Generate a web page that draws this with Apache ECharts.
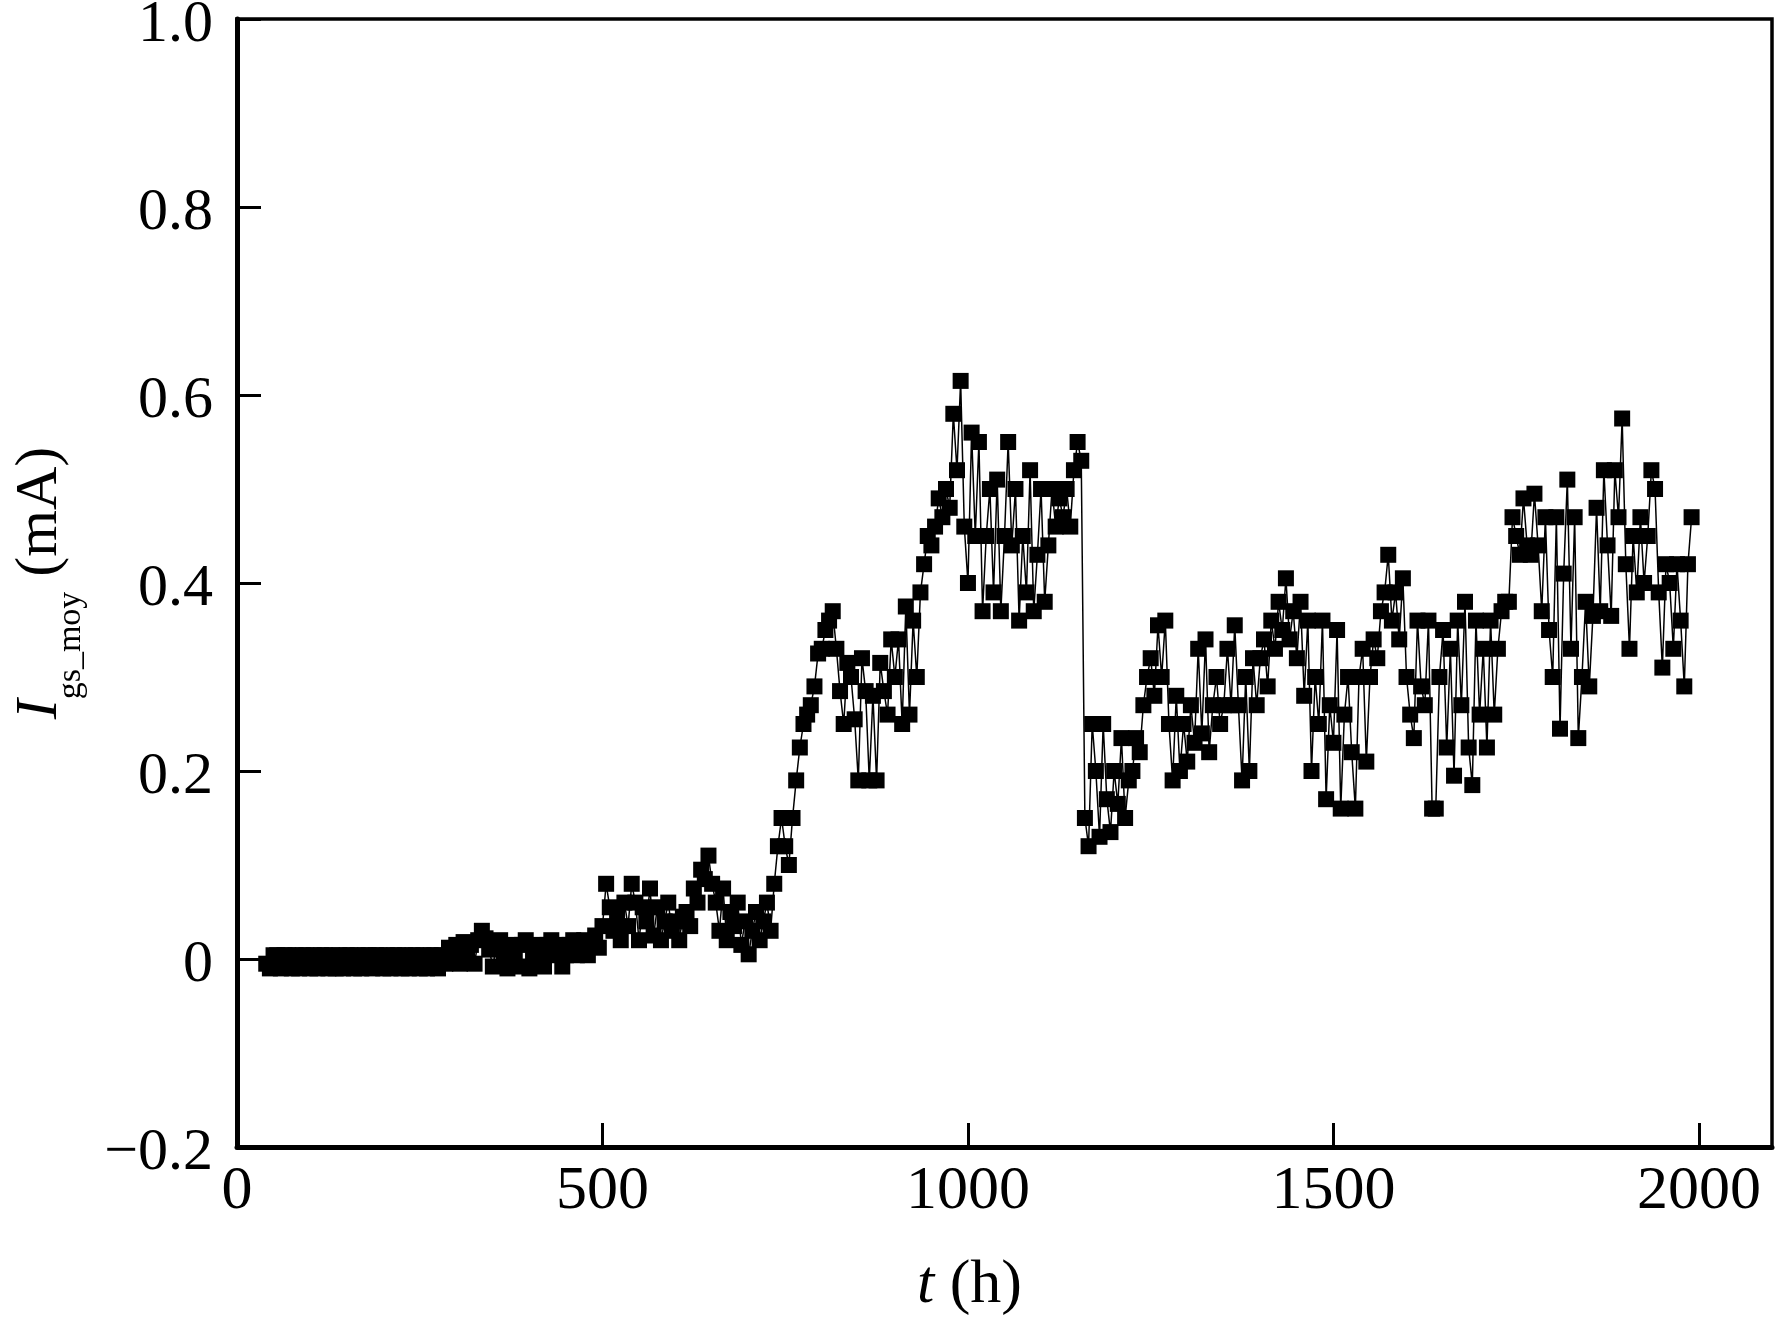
<!DOCTYPE html>
<html>
<head>
<meta charset="utf-8">
<script src="https://cdn.jsdelivr.net/npm/echarts@6/dist/echarts.min.js"></script>
<style>
html,body{margin:0;padding:0;background:#fff;}
#chart{width:1775px;height:1330px;}
</style>
</head>
<body>
<div id="chart"></div>
<script>
// time (h)
const timeH = [
40,45,50,55,60,65,70,75,80,85,90,95,100,105,110,115,120,125,130,135,
140,145,150,155,160,165,170,175,180,185,190,195,200,205,210,215,220,225,230,235,
240,245,250,255,260,265,270,275,280,285,290,295,300,305,310,315,320,325,330,335,
340,345,350,355,360,365,370,375,380,385,390,395,400,405,410,415,420,425,430,435,
440,445,450,455,460,465,470,475,480,485,490,495,500,505,510,515,520,525,530,535,
540,545,550,555,560,565,570,575,580,585,590,595,600,605,610,615,620,625,630,635,
640,645,650,655,660,665,670,675,680,685,690,695,700,705,710,715,720,725,730,735,
740,745,750,755,760,765,770,775,780,785,790,795,800,805,810,815,820,825,830,835,
840,845,850,855,860,865,870,875,880,885,890,895,900,905,910,915,920,925,930,935,
940,945,950,955,960,965,970,975,980,985,990,995,1000,1005,1010,1015,1020,1025,1030,1035,
1040,1045,1050,1055,1060,1065,1070,1075,1080,1085,1090,1095,1100,1105,1110,1115,1120,1125,1130,1135,
1140,1145,1150,1155,1160,1165,1170,1175,1180,1185,1190,1195,1200,1205,1210,1215,1220,1225,1230,1235,
1240,1245,1250,1255,1260,1265,1270,1275,1280,1285,1290,1295,1300,1305,1310,1315,1320,1325,1330,1335,
1340,1345,1350,1355,1360,1365,1370,1375,1380,1385,1390,1395,1400,1405,1410,1415,1420,1425,1430,1435,
1440,1445,1450,1455,1460,1465,1470,1475,1480,1485,1490,1495,1500,1505,1510,1515,1520,1525,1530,1535,
1540,1545,1550,1555,1560,1565,1570,1575,1580,1585,1590,1595,1600,1605,1610,1615,1620,1625,1630,1635,
1640,1645,1650,1655,1660,1665,1670,1675,1680,1685,1690,1695,1700,1705,1710,1715,1720,1725,1730,1735,
1740,1745,1750,1755,1760,1765,1770,1775,1780,1785,1790,1795,1800,1805,1810,1815,1820,1825,1830,1835,
1840,1845,1850,1855,1860,1865,1870,1875,1880,1885,1890,1895,1900,1905,1910,1915,1920,1925,1930,1935,
1940,1945,1950,1955,1960,1965,1970,1975,1980,1985,1990
];
// I_gs_moy (mA)
const igsMoy = [
-0.005,-0.01,0.004,0.004,-0.01,0.004,0.004,-0.01,0.004,-0.01,0.004,0.004,-0.01,0.004,-0.01,0.004,0.004,-0.01,0.004,-0.01,
0.004,-0.01,0.004,0.004,-0.01,0.004,-0.01,0.004,0.004,-0.01,0.004,0.004,-0.01,0.004,-0.01,0.004,0.004,-0.01,0.004,-0.01,
0.004,0.004,-0.01,0.004,-0.01,0.004,0.004,-0.01,0.004,-0.005,0.012,0.004,0.015,-0.005,0.018,0.008,0.015,-0.005,0.02,0.03,
0.022,0.01,-0.008,0.015,0.02,0.004,-0.01,0.015,0.004,-0.008,0.015,0.02,-0.01,0.004,0.015,0.004,-0.008,0.015,0.02,0.004,
0.015,-0.008,0.004,0.015,0.02,0.004,0.012,0.02,0.004,0.015,0.025,0.012,0.035,0.08,0.055,0.03,0.045,0.02,0.06,0.035,
0.08,0.06,0.02,0.055,0.04,0.075,0.025,0.055,0.02,0.04,0.06,0.03,0.04,0.02,0.045,0.05,0.035,0.075,0.06,0.095,
0.085,0.11,0.08,0.06,0.03,0.075,0.02,0.05,0.035,0.06,0.015,0.04,0.005,0.03,0.05,0.02,0.04,0.06,0.03,0.08,
0.12,0.15,0.12,0.1,0.15,0.19,0.225,0.25,0.26,0.27,0.29,0.325,0.33,0.35,0.36,0.37,0.33,0.285,0.25,0.315,
0.3,0.255,0.19,0.32,0.285,0.19,0.28,0.19,0.315,0.285,0.26,0.34,0.3,0.34,0.25,0.375,0.26,0.36,0.3,0.39,
0.42,0.45,0.44,0.46,0.49,0.47,0.5,0.48,0.58,0.52,0.615,0.46,0.4,0.56,0.45,0.55,0.37,0.45,0.5,0.39,
0.51,0.37,0.45,0.55,0.44,0.5,0.36,0.45,0.39,0.52,0.37,0.43,0.5,0.38,0.44,0.5,0.46,0.49,0.47,0.5,
0.46,0.52,0.55,0.53,0.15,0.12,0.25,0.2,0.13,0.25,0.17,0.135,0.2,0.165,0.235,0.15,0.19,0.2,0.235,0.22,
0.27,0.3,0.32,0.28,0.355,0.3,0.36,0.25,0.19,0.28,0.2,0.25,0.21,0.27,0.23,0.33,0.24,0.34,0.22,0.27,
0.3,0.25,0.27,0.33,0.27,0.355,0.27,0.19,0.3,0.2,0.32,0.27,0.32,0.34,0.29,0.36,0.33,0.38,0.35,0.405,
0.34,0.37,0.32,0.38,0.28,0.36,0.2,0.3,0.25,0.36,0.17,0.27,0.23,0.35,0.16,0.26,0.3,0.22,0.16,0.3,
0.33,0.21,0.3,0.34,0.32,0.37,0.39,0.43,0.36,0.39,0.34,0.405,0.3,0.26,0.235,0.36,0.29,0.27,0.36,0.16,
0.16,0.3,0.35,0.225,0.33,0.195,0.36,0.27,0.38,0.225,0.185,0.36,0.26,0.33,0.225,0.36,0.26,0.33,0.37,0.38,
0.38,0.47,0.45,0.43,0.49,0.44,0.43,0.495,0.44,0.37,0.47,0.35,0.3,0.47,0.245,0.41,0.51,0.33,0.47,0.235,
0.3,0.38,0.29,0.365,0.48,0.37,0.52,0.44,0.365,0.52,0.47,0.575,0.42,0.33,0.45,0.39,0.47,0.4,0.45,0.52,
0.5,0.39,0.31,0.42,0.4,0.33,0.42,0.36,0.29,0.42,0.47
];
const xTicks = [0, 500, 1000, 1500, 2000];
const yTicks = [-0.2, 0, 0.2, 0.4, 0.6, 0.8, 1.0];

const FONT = "'Liberation Serif','Times New Roman',serif";
const seriesData = timeH.map((t, i) => [t, igsMoy[i]]);

const chart = echarts.init(document.getElementById('chart'), null, {renderer: 'canvas'});
chart.setOption({
  backgroundColor: '#ffffff',
  animation: false,
  grid: {
    left: 237, top: 19, right: 3, bottom: 183,
    outerBoundsMode: 'none', containLabel: false,
    show: true, borderColor: '#000', borderWidth: 3.5, backgroundColor: 'transparent'
  },
  xAxis: {
    type: 'value', min: 0, max: 2100, interval: 500,
    axisLine: {show: true, onZero: false, lineStyle: {color: '#000', width: 5}},
    axisTick: {show: true, inside: true, length: 24, lineStyle: {color: '#000', width: 3},
      customValues: xTicks},
    axisLabel: {show: true, color: '#000', fontFamily: FONT, fontSize: 62, margin: 14,
      customValues: xTicks, formatter: v => String(v)},
    splitLine: {show: false},
    name: '{it|t}{n| (h)}',
    nameLocation: 'middle', nameGap: 108,
    nameTextStyle: {
      color: '#000', fontFamily: FONT, fontSize: 62, padding: [0, 70, 0, 0],
      rich: {
        it: {fontFamily: FONT, fontSize: 62, fontStyle: 'italic', color: '#000'},
        n: {fontFamily: FONT, fontSize: 62, color: '#000'}
      }
    }
  },
  yAxis: {
    type: 'value', min: -0.2, max: 1.0, interval: 0.2,
    axisLine: {show: true, onZero: false, lineStyle: {color: '#000', width: 5}},
    axisTick: {show: true, inside: true, length: 24, lineStyle: {color: '#000', width: 3},
      customValues: yTicks},
    axisLabel: {show: true, color: '#000', fontFamily: FONT, fontSize: 60, margin: 24,
      verticalAlign: 'top', lineHeight: 12,
      customValues: yTicks,
      formatter: v => {
        const r = Math.round(v * 10) / 10;
        if (r === 0) return '0';
        if (r < 0) return '\u2212' + Math.abs(r).toFixed(1);
        return r.toFixed(1);
      }
    },
    splitLine: {show: false},
    name: '{it|I}{sub|gs_moy}{n| (mA)}',
    nameLocation: 'middle', nameGap: 165, nameRotate: 90,
    nameTextStyle: {
      color: '#000', fontFamily: FONT, fontSize: 60,
      rich: {
        it: {fontFamily: FONT, fontSize: 60, lineHeight: 62, fontStyle: 'italic', color: '#000', verticalAlign: 'top'},
        sub: {fontFamily: FONT, fontSize: 34, lineHeight: 36, color: '#000', verticalAlign: 'top', padding: [44, 0, 0, 0]},
        n: {fontFamily: FONT, fontSize: 60, lineHeight: 62, color: '#000', verticalAlign: 'top'}
      }
    }
  },
  series: [{
    type: 'line',
    data: seriesData,
    symbol: 'rect',
    symbolSize: 16,
    showSymbol: true,
    showAllSymbol: true,
    lineStyle: {color: '#000', width: 1.5},
    itemStyle: {color: '#000'},
    clip: true
  }]
});
</script>
</body>
</html>
